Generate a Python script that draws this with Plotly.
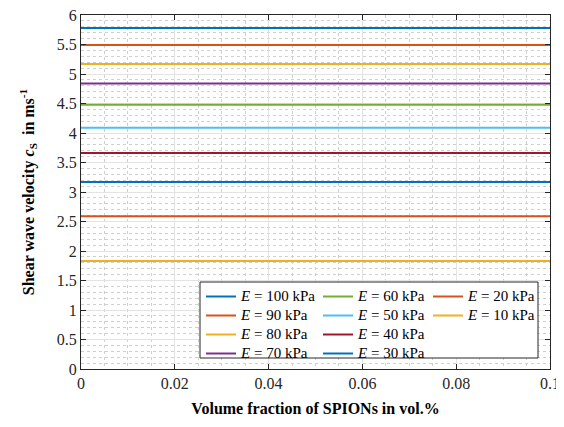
import plotly.graph_objects as go

# Data
volume_fraction = [0.0, 0.1]
E_kPa = [100, 90, 80, 70, 60, 50, 40, 30, 20, 10]
cs_at_0 = [5.78, 5.49, 5.17, 4.84, 4.48, 4.09, 3.66, 3.17, 2.59, 1.83]
cs_at_01 = [5.78, 5.49, 5.17, 4.84, 4.48, 4.09, 3.66, 3.17, 2.59, 1.83]
colors = ["#0072BD", "#D95319", "#EDB120", "#7E2F8E", "#77AC30",
          "#4DBEEE", "#A2142F", "#0072BD", "#D95319", "#EDB120"]
legend_cols = ["legend", "legend", "legend", "legend",
               "legend2", "legend2", "legend2", "legend2",
               "legend3", "legend3"]

FONT = "Liberation Serif, Times New Roman, serif"
AX = "#262626"

fig = go.Figure()
for i, E in enumerate(E_kPa):
    fig.add_trace(go.Scatter(
        x=volume_fraction, y=[cs_at_0[i], cs_at_01[i]], mode="lines",
        line=dict(color=colors[i], width=2),
        name=f"<span style='font-size:15px'><i>E</i> = {E} kPa</span>",
        legend=legend_cols[i],
    ))

# the page places the figure 8 px from the top-left corner of the window
OFF = 8
W, H = 564 - OFF, 427 - OFF
L, R, T, B = 81 - OFF, 14, 15 - OFF, 58
pw, ph = W - L - R, H - T - B

def px2x(px):
    return (px - 81) / pw

def py2y(py):
    return (369 - py) / ph

leg_common = dict(bgcolor="rgba(0,0,0,0)", borderwidth=0, yanchor="top",
                  xanchor="left", font=dict(family=FONT, size=11, color="#000"),
                  tracegroupgap=0, itemwidth=30)

fig.add_shape(type="rect", xref="paper", yref="paper",
              x0=px2x(200), x1=px2x(538), y0=py2y(358), y1=py2y(282),
              line=dict(color=AX, width=1), fillcolor="white", layer="above")

fig.update_layout(
    width=W, height=H,
    margin=dict(l=L, r=R, t=T, b=B, autoexpand=False),
    paper_bgcolor="white", plot_bgcolor="white",
    font=dict(family=FONT, size=15, color=AX),
    legend=dict(x=px2x(201), y=py2y(282), **leg_common),
    legend2=dict(x=px2x(318), y=py2y(282), **leg_common),
    legend3=dict(x=px2x(428), y=py2y(282), **leg_common),
    xaxis=dict(
        range=[0, 0.1], tickvals=[0, 0.02, 0.04, 0.06, 0.08, 0.1],
        ticktext=["0", "0.02", "0.04", "0.06", "0.08", "0.1"],
        showline=True, linecolor=AX, linewidth=1, mirror="allticks",
        ticks="inside", ticklen=5, tickcolor=AX, automargin=False,
        ticklabeloverflow="allow",
        showgrid=True, gridcolor="#e3e3e3", gridwidth=1, zeroline=False,
        minor=dict(dtick=0.005, showgrid=True, gridcolor="#d0d0d0",
                   griddash="dot", gridwidth=1, ticks=""),
        tickfont=dict(family=FONT, size=16, color=AX),
        title=dict(text="<b>Volume fraction of SPIONs in vol.%</b>",
                   font=dict(family=FONT, size=16, color="#000"), standoff=11),
    ),
    yaxis=dict(
        range=[0, 6], dtick=0.5, tick0=0,
        showline=True, linecolor=AX, linewidth=1, mirror="allticks",
        ticks="inside", ticklen=5, tickcolor=AX, automargin=False,
        ticklabeloverflow="allow",
        showgrid=True, gridcolor="#e3e3e3", gridwidth=1, zeroline=False,
        minor=dict(dtick=0.1, showgrid=True, gridcolor="#d0d0d0",
                   griddash="dot", gridwidth=1, ticks=""),
        tickfont=dict(family=FONT, size=16, color=AX),
        title=dict(text="<b>Shear wave velocity <i>c</i><sub>S</sub>  in ms<sup>-1</sup></b>",
                   font=dict(family=FONT, size=16, color="#000"), standoff=18),
    ),
)

fig.write_html("out.html")
